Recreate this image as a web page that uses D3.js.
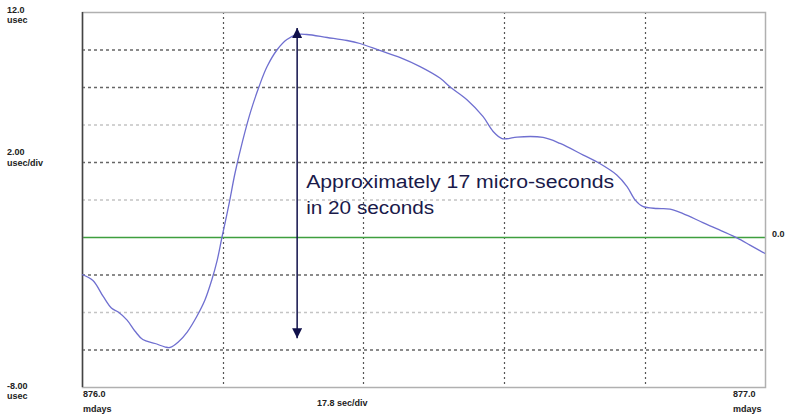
<!doctype html>
<html lang="en">
<head>
    <meta charset="utf-8">
    <title>Time offset</title>
    <style>
        body {
            margin: 0;
            background: white;
        }
        .lbl {
            font-family: 'Liberation Sans', Arial, sans-serif;
            font-weight: bold;
            font-size: 9px;
            fill: #222;
        }
        .note {
            font-family: 'Liberation Sans', Arial, sans-serif;
            font-size: 18px;
            fill: #1a1a4a;
        }
    </style>
</head>
<body>
    <svg id="chart"></svg>
    <script src="https://cdn.jsdelivr.net/npm/d3@7"></script>
    <script>
        // time in mdays, offset in usec
        var times = [876.000, 876.016, 876.031, 876.043, 876.053, 876.066, 876.078, 876.089, 876.107, 876.122,
            876.129, 876.141, 876.154, 876.168, 876.180, 876.190, 876.198, 876.205, 876.215, 876.224,
            876.235, 876.247, 876.259, 876.271, 876.286, 876.300, 876.315, 876.329, 876.359, 876.388,
            876.407, 876.436, 876.466, 876.495, 876.524, 876.540, 876.564, 876.587, 876.602, 876.615,
            876.624, 876.637, 876.675, 876.700, 876.734, 876.758, 876.783, 876.798, 876.810, 876.821,
            876.842, 876.861, 876.880, 876.909, 876.939, 876.959, 876.978, 877.000];
        var offsets = [-2.00, -2.32, -3.17, -3.79, -4.00, -4.43, -5.04, -5.47, -5.68, -5.87,
            -5.89, -5.60, -5.07, -4.24, -3.36, -2.29, -1.23, 0.00, 1.71, 3.40,
            5.10, 6.70, 8.00, 9.09, 10.00, 10.53, 10.80, 10.80, 10.64, 10.48,
            10.32, 9.95, 9.57, 9.09, 8.48, 7.97, 7.31, 6.43, 5.63, 5.25,
            5.25, 5.33, 5.31, 4.99, 4.37, 3.92, 3.31, 2.69, 1.97, 1.63,
            1.52, 1.49, 1.25, 0.77, 0.29, -0.05, -0.43, -0.88];

        var yTicks = [10, 8, 6, 4, 2, -2, -4, -6];
        var yTickShade = ['dark', 'dark', 'light', 'dark', 'light', 'dark', 'light', 'dark'];
        var xDivSec = 17.8;
        var arrowAt = 876.315, arrowTop = 11.15, arrowBottom = -5.4;
        var noteLines = ['Approximately 17 micro-seconds', 'in 20 seconds'];

        var svgWidth = 788, svgHeight = 417;
        var margin = { top: 12, right: 23, bottom: 30, left: 82 };
        var width = svgWidth - margin.left - margin.right;
        var height = svgHeight - margin.top - margin.bottom;

        var svg = d3.select("#chart")
            .attr("width", svgWidth)
            .attr("height", svgHeight);

        var x = d3.scaleLinear().domain([876, 877]).range([0, width]);
        var y = d3.scaleLinear().domain([-8, 12]).range([height, 0]);

        var xGrid = d3.range(1, 5).map(function (k) { return 876 + k * xDivSec / 86400 * 1000; });

        var g = svg.append("g")
            .attr("transform", "translate(" + margin.left + "," + margin.top + ")");

        // grid
        g.selectAll(".hgrid").data(yTicks).enter().append("line")
            .attr("x1", 0).attr("x2", width)
            .attr("y1", function (d) { return y(d) + 0.5; })
            .attr("y2", function (d) { return y(d) + 0.5; })
            .attr("stroke", function (d, i) { return yTickShade[i] == 'dark' ? '#666' : '#c4c4c4'; })
            .attr("stroke-width", 1.3)
            .attr("stroke-dasharray", "3,3");

        g.selectAll(".vgrid").data(xGrid).enter().append("line")
            .attr("x1", function (d) { return Math.round(x(d)) + 0.5; })
            .attr("x2", function (d) { return Math.round(x(d)) + 0.5; })
            .attr("y1", 0).attr("y2", height)
            .attr("stroke", "#555")
            .attr("stroke-width", 1.2)
            .attr("stroke-dasharray", "2,3");

        // zero line
        g.append("line")
            .attr("x1", 0).attr("x2", width)
            .attr("y1", y(0) + 0.5).attr("y2", y(0) + 0.5)
            .attr("stroke", "#3f9f3f")
            .attr("stroke-width", 1.3);

        // frame
        g.append("rect")
            .attr("x", 0.5).attr("y", 0.5)
            .attr("width", width).attr("height", height)
            .attr("fill", "none")
            .attr("stroke", "#b0b0b0")
            .attr("stroke-width", 1.5);
        g.append("line")
            .attr("x1", 0.5).attr("x2", 0.5)
            .attr("y1", 0).attr("y2", height)
            .attr("stroke", "#444")
            .attr("stroke-width", 1.5);

        // curve
        var data = times.map(function (t, i) { return { t: t, v: offsets[i] }; });
        var line = d3.line()
            .x(function (d) { return x(d.t); })
            .y(function (d) { return y(d.v); })
            .curve(d3.curveCatmullRom.alpha(0.5));

        g.append("path")
            .datum(data)
            .attr("fill", "none")
            .attr("stroke", "#6f6fd0")
            .attr("stroke-width", 1.3)
            .attr("d", line);

        // arrow annotation
        var defs = svg.append("defs");
        defs.append("marker")
            .attr("id", "head")
            .attr("viewBox", "0 0 10 10")
            .attr("refX", 10).attr("refY", 5)
            .attr("markerWidth", 10).attr("markerHeight", 10)
            .attr("markerUnits", "userSpaceOnUse")
            .attr("orient", "auto-start-reverse")
            .append("path")
            .attr("d", "M0,0L10,5L0,10Z")
            .attr("fill", "#10104a");

        g.append("line")
            .attr("x1", x(arrowAt)).attr("x2", x(arrowAt))
            .attr("y1", y(arrowTop)).attr("y2", y(arrowBottom))
            .attr("stroke", "#10104a")
            .attr("stroke-width", 1.5)
            .attr("marker-start", "url(#head)")
            .attr("marker-end", "url(#head)");

        var noteWidths = [308, 128];
        g.selectAll(".note").data(noteLines).enter().append("text")
            .attr("class", "note")
            .attr("x", x(arrowAt) + 9)
            .attr("y", function (d, i) { return y(2.6) + i * 26; })
            .attr("textLength", function (d, i) { return noteWidths[i]; })
            .attr("lengthAdjust", "spacingAndGlyphs")
            .text(function (d) { return d; });

        // scale labels
        var labels = [
            ["12.0", 7, 13], ["usec", 7, 23],
            ["2.00", 7, 155], ["usec/div", 7, 166],
            ["-8.00", 7, 389], ["usec", 7, 399],
            ["876.0", 83, 397], ["mdays", 83, 412],
            ["17.8 sec/div", 317, 406],
            ["877.0", 733, 397], ["mdays", 733, 412],
            ["0.0", 772, 237]
        ];
        svg.selectAll(".lbl").data(labels).enter().append("text")
            .attr("class", "lbl")
            .attr("x", function (d) { return d[1]; })
            .attr("y", function (d) { return d[2]; })
            .text(function (d) { return d[0]; });
    </script>
</body>
</html>
